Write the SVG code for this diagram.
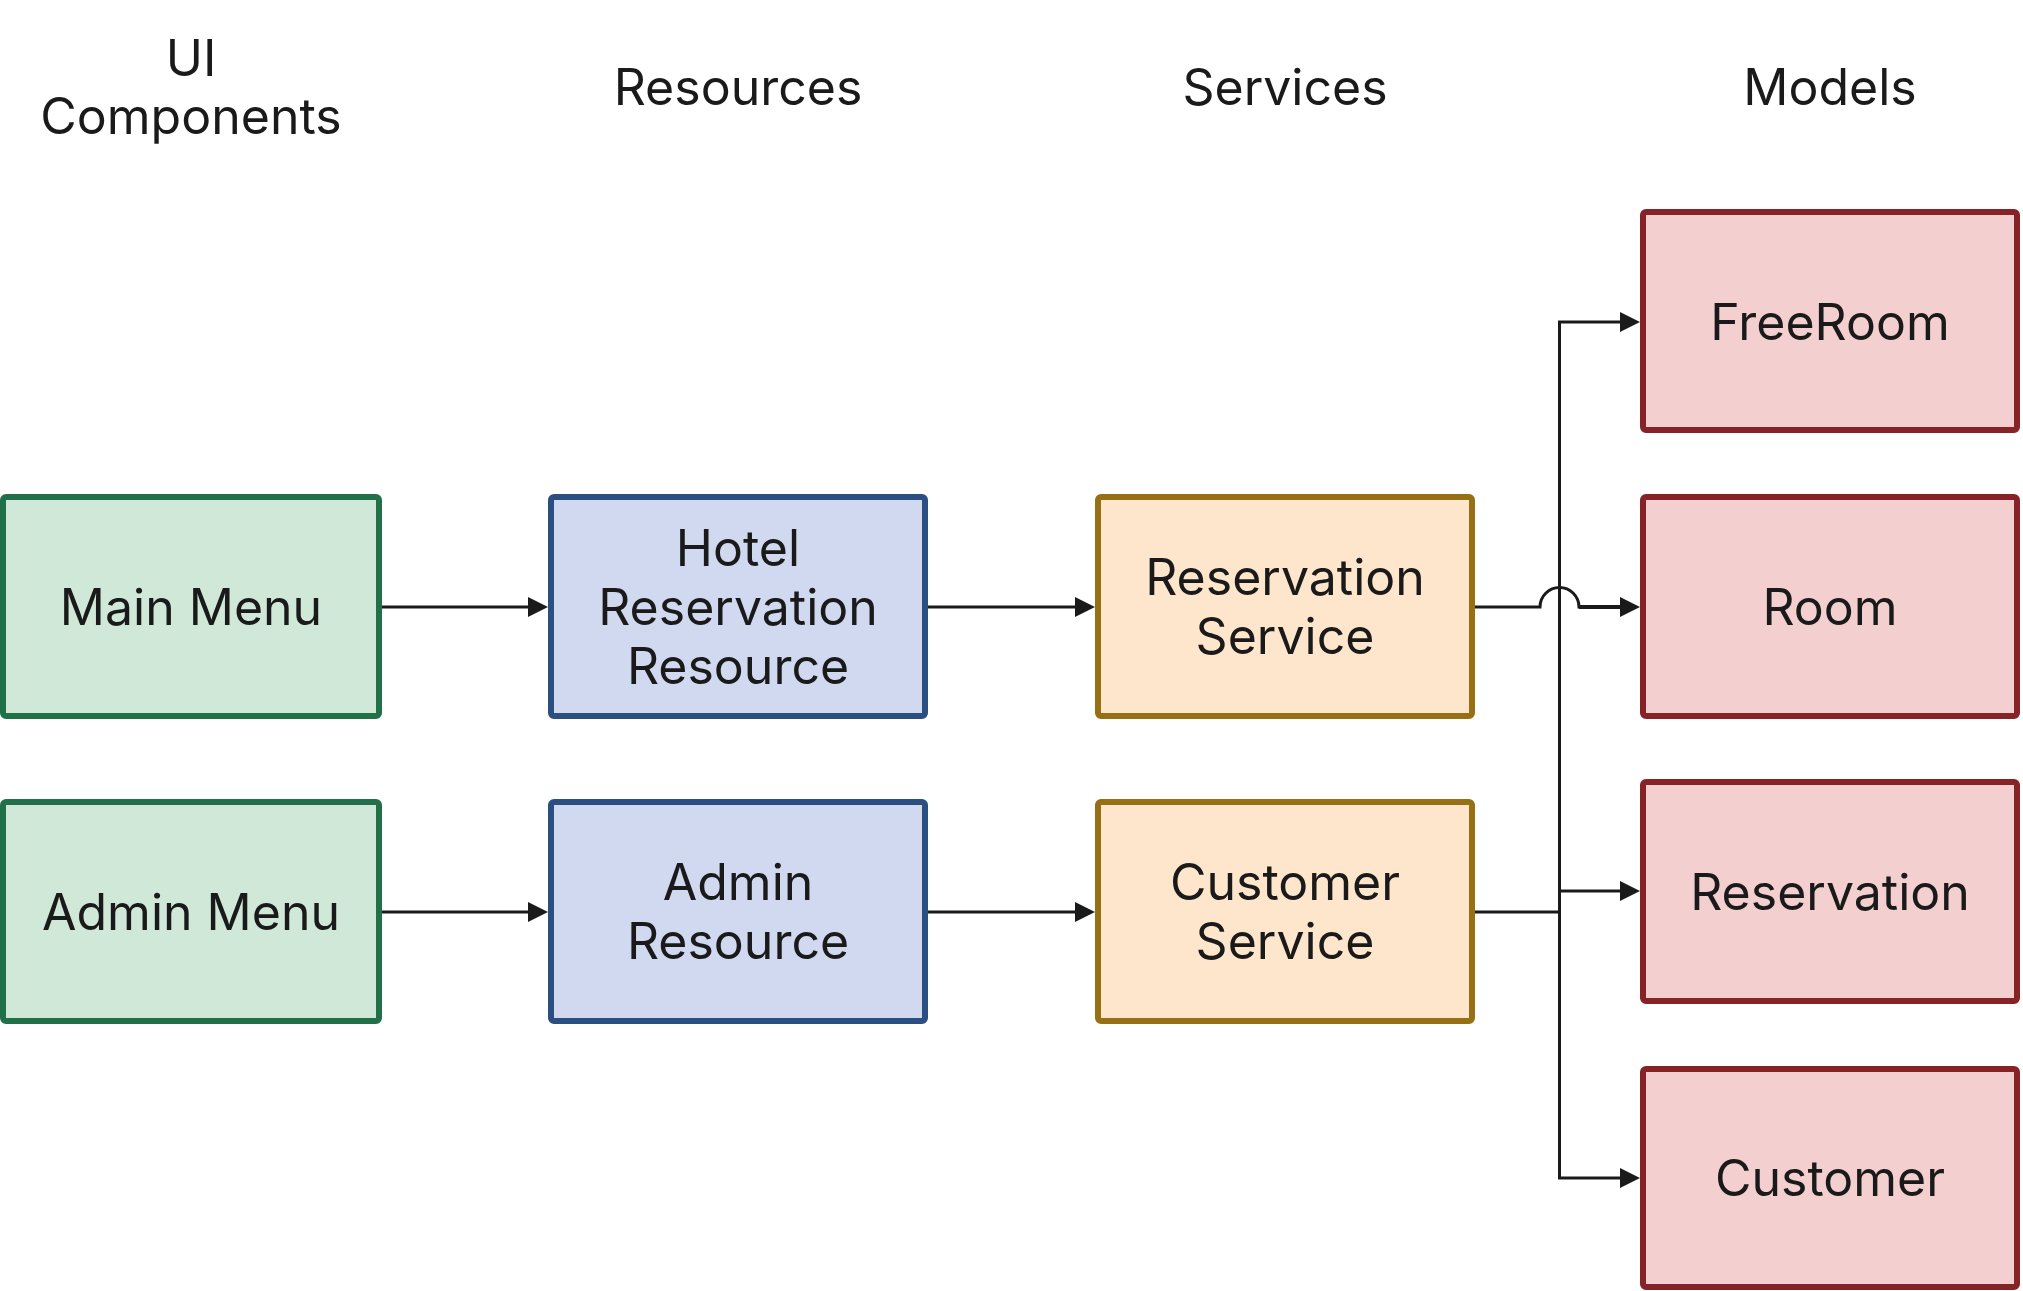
<svg xmlns="http://www.w3.org/2000/svg" width="2023" height="1291" viewBox="0 0 2023 1291">
<style>
text{font-family:Inter,"Noto Sans","Liberation Sans",sans-serif;font-size:50px;fill:#1a1a1a;text-anchor:middle}
.box{stroke-width:6}
.ui{fill:#cfe8d8;stroke:#22704a}
.res{fill:#d1d9f0;stroke:#2c4f82}
.svc{fill:#fde6cc;stroke:#976f14}
.mdl{fill:#f3cfd0;stroke:#852326}
.edge{fill:none;stroke:#1a1a1a;stroke-width:3}
</style>
<defs>
<marker id="arr" viewBox="0 0 20 20" refX="16" refY="10" markerWidth="20" markerHeight="20" markerUnits="userSpaceOnUse" orient="auto">
<path d="M0,0 L20,10 L0,20 Z" fill="#1a1a1a"/>
</marker>
</defs>
<rect width="2023" height="1291" fill="#ffffff"/>
<g id="headers">
<text x="191" y="76">UI</text>
<text x="191" y="134">Components</text>
<text x="738" y="105">Resources</text>
<text x="1285" y="105">Services</text>
<text x="1830" y="105">Models</text>
</g>
<g id="connectors">
<path class="edge" d="M382,607 H544" marker-end="url(#arr)"/>
<path class="edge" d="M928,607 H1091" marker-end="url(#arr)"/>
<path class="edge" d="M382,912 H544" marker-end="url(#arr)"/>
<path class="edge" d="M928,912 H1091" marker-end="url(#arr)"/>
<path class="edge" d="M1475,607 H1540 A19.5,19.5 0 0 1 1579,607 H1636" marker-end="url(#arr)"/>
<path class="edge" d="M1579,607 H1625" style="stroke-width:4"/>
<path class="edge" d="M1475,912 H1559.5"/>
<path class="edge" d="M1559.5,322 V1178"/>
<path class="edge" d="M1558,322 H1636" marker-end="url(#arr)"/>
<path class="edge" d="M1559.5,891 H1636" marker-end="url(#arr)"/>
<path class="edge" d="M1558,1178 H1636" marker-end="url(#arr)"/>
</g>
<g id="main-menu">
<rect class="box ui" x="3" y="497" width="376" height="219" rx="3"/>
<text x="191" y="625">Main Menu</text>
</g>
<g id="admin-menu">
<rect class="box ui" x="3" y="802" width="376" height="219" rx="3"/>
<text x="191" y="930">Admin Menu</text>
</g>
<g id="hotel-reservation-resource">
<rect class="box res" x="551" y="497" width="374" height="219" rx="3"/>
<text x="738" y="566">Hotel</text>
<text x="738" y="625">Reservation</text>
<text x="738" y="684">Resource</text>
</g>
<g id="admin-resource">
<rect class="box res" x="551" y="802" width="374" height="219" rx="3"/>
<text x="738" y="900">Admin</text>
<text x="738" y="959">Resource</text>
</g>
<g id="reservation-service">
<rect class="box svc" x="1098" y="497" width="374" height="219" rx="3"/>
<text x="1285" y="595">Reservation</text>
<text x="1285" y="654">Service</text>
</g>
<g id="customer-service">
<rect class="box svc" x="1098" y="802" width="374" height="219" rx="3"/>
<text x="1285" y="900">Customer</text>
<text x="1285" y="959">Service</text>
</g>
<g id="freeroom">
<rect class="box mdl" x="1643" y="212" width="374" height="218" rx="3"/>
<text x="1830" y="340">FreeRoom</text>
</g>
<g id="room">
<rect class="box mdl" x="1643" y="497" width="374" height="219" rx="3"/>
<text x="1830" y="625">Room</text>
</g>
<g id="reservation">
<rect class="box mdl" x="1643" y="782" width="374" height="219" rx="3"/>
<text x="1830" y="910">Reservation</text>
</g>
<g id="customer">
<rect class="box mdl" x="1643" y="1069" width="374" height="218" rx="3"/>
<text x="1830" y="1196">Customer</text>
</g>
</svg>
